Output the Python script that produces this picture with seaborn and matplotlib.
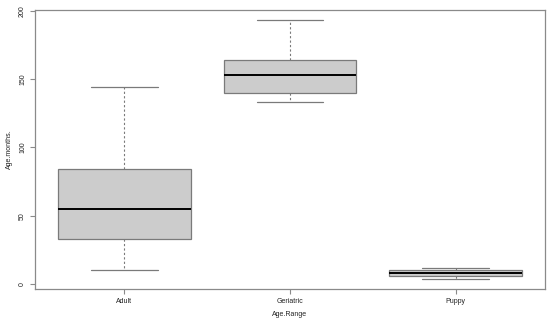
import numpy as np
import pandas as pd
import matplotlib
matplotlib.use("Agg")
import matplotlib.pyplot as plt
import seaborn as sns

# Five-number summaries (min, Q1, median, Q3, max)
categories = ["Adult", "Geriatric", "Puppy"]
adult = [10, 33, 55, 84, 144]
geriatric = [133, 140, 153, 164, 193]
puppy = [4, 6, 8, 10, 12]
y_ticks = [0, 50, 100, 150, 200]

df = pd.DataFrame({
    "Age.Range": np.repeat(categories, 5),
    "Age.months.": adult + geriatric + puppy,
})

sns.set_theme(style="white")
plt.rcParams["font.family"] = ["Liberation Sans", "DejaVu Sans"]

fig = plt.figure(figsize=(5.5, 3.25), dpi=100)
ax = fig.add_axes([35 / 550, 1 - 289 / 325, 510 / 550, 279 / 325])

line_col = "#7a7a7a"
sns.boxplot(
    data=df, x="Age.Range", y="Age.months.", ax=ax,
    color="#cccccc", width=0.8, whis=(0, 100), saturation=1,
    linecolor=line_col, linewidth=0.9,
    medianprops=dict(color="black", linewidth=1.4),
    whiskerprops=dict(color=line_col, linestyle=(0, (2, 2)), linewidth=0.8),
    capprops=dict(color=line_col, linewidth=0.9),
    boxprops=dict(edgecolor=line_col, linewidth=0.9),
    capwidths=0.4,
)

ax.set_xlim(-0.54, 2.54)
ax.set_ylim(-3.56, 200.56)
ax.set_yticks(y_ticks)
ax.set_yticklabels([str(v) for v in y_ticks], rotation=90, va="center")
for s in ax.spines.values():
    s.set_visible(True)
    s.set_color("#8a8a8a")
    s.set_linewidth(0.9)
ax.tick_params(axis="both", direction="out", length=3.5, width=0.8,
               color="#8a8a8a", labelsize=5, labelcolor="#222222",
               left=True, bottom=True, pad=3)
ax.set_xlabel("Age.Range", fontsize=5, color="#222222", labelpad=4)
ax.set_ylabel("Age.months.", fontsize=5, color="#222222", labelpad=4)

fig.savefig("out.png", dpi=100, facecolor="white")
